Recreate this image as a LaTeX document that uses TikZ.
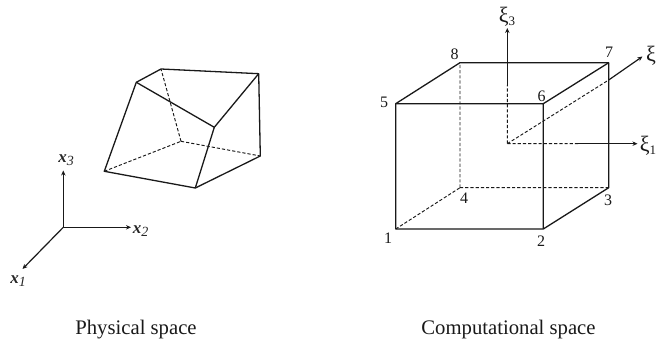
\documentclass[tikz,border=0pt]{standalone}
\usepackage{fontspec}
\setmainfont{Liberation Serif}
\usetikzlibrary{arrows.meta}
\tikzset{
 edge/.style={line width=1.3pt,line join=round,black!90},
 hid/.style={line width=0.95pt,dash pattern=on 3.2pt off 2pt,black!90},
 axis/.style={line width=1.2pt,black!90,-{Stealth[length=5pt,width=4.4pt]}},
 lab/.style={font=\fontsize{16}{18}\selectfont,inner sep=0pt,text=black!90},
 axlab/.style={font=\fontsize{17}{19}\selectfont\itshape,inner sep=0pt,text=black!85},
 gr/.style={inner sep=0pt,text=black!90},
 captext/.style={font=\fontsize{20.7}{23}\selectfont,inner sep=0pt,text=black!90,anchor=base},
}
\begin{document}
\begin{tikzpicture}[x=1pt,y=-1pt]
\useasboundingbox (0,0) rectangle (656,344);
% physical element
\coordinate (A) at (104.3,171.3);
\coordinate (B) at (195.3,188);
\coordinate (C) at (260.3,156);
\coordinate (D) at (181,141.3);
\coordinate (E) at (136.3,82.3);
\coordinate (F) at (214.3,127.3);
\coordinate (G) at (258.7,73.7);
\coordinate (H) at (161,69);
\draw[hid] (A)--(D) (D)--(C) (D)--(H);
\draw[edge] (A)--(B)--(C)--(G)--(H)--(E)--cycle;
\draw[edge] (E)--(F)--(G) (F)--(B);
% physical axes
\coordinate (O) at (63.3,227.3);
\node[axlab] (x3) at (66,160) {\textbf{x}\raisebox{-3pt}{\fontsize{14}{15}\selectfont 3}};
\node[axlab] (x2) at (140.5,231) {\textbf{x}\raisebox{-3pt}{\fontsize{14}{15}\selectfont 2}};
\node[axlab] (x1) at (18,281.5) {\textbf{x}\raisebox{-3pt}{\fontsize{14}{15}\selectfont 1}};
\coordinate (x3e) at (63.3,170.5);
\coordinate (x2e) at (131,227.3);
\coordinate (x1e) at (22.5,269);
\draw[axis] (O)--(x3e);
\draw[axis] (O)--(x2e);
\draw[axis] (O)--(x1e);
% cube
\coordinate (c1) at (395.7,229);
\coordinate (c2) at (543.3,229);
\coordinate (c3) at (608.7,187.7);
\coordinate (c4) at (460,187.7);
\coordinate (c5) at (395.7,103.7);
\coordinate (c6) at (543.3,103.7);
\coordinate (c7) at (608.7,62.7);
\coordinate (c8) at (460,62.7);
\draw[hid] (c1)--(c4) (c4)--(c3) (c4)--(c8);
\draw[edge] (c1)--(c2)--(c3)--(c7)--(c8)--(c5)--cycle;
\draw[edge] (c5)--(c6)--(c7) (c6)--(c2);
% computational axes
\coordinate (P) at (507.3,143.7);
\coordinate (p3) at (507.3,85);
\coordinate (p1) at (578,143.7);
\coordinate (p2) at (608.7,80);
\coordinate (p3e) at (507.3,28);
\coordinate (p1e) at (637.5,143.7);
\coordinate (p2e) at (642.5,56.5);
\draw[hid] (P)--(p3) (P)--(p1) (P)--(p2);
\draw[axis] (p3)--(p3e);
\draw[axis] (p1)--(p1e);
\draw[axis] (p2)--(p2e);
\node[gr] (g3) at (507,16.5) {\fontsize{22}{24}\selectfont ξ\raisebox{-3pt}{\fontsize{13}{14}\selectfont 3}};
\node[gr] (g1) at (648,145.5) {\fontsize{22}{24}\selectfont ξ\raisebox{-3pt}{\fontsize{13}{14}\selectfont 1}};
\node[gr] (g2) at (651,56) {\fontsize{22}{24}\selectfont ξ};
% numbers
\node[lab] (n1) at (388,238) {1};
\node[lab] (n2) at (541,241) {2};
\node[lab] (n3) at (608,200) {3};
\node[lab] (n4) at (464,198) {4};
\node[lab] (n5) at (384,102) {5};
\node[lab] (n6) at (541.5,96) {6};
\node[lab] (n7) at (609,52.5) {7};
\node[lab] (n8) at (454.5,54) {8};
% captions
\node[captext] (cp) at (136,335) {Physical space};
\node[captext] (cc) at (508.5,335) {Computational space};
\end{tikzpicture}
\end{document}
